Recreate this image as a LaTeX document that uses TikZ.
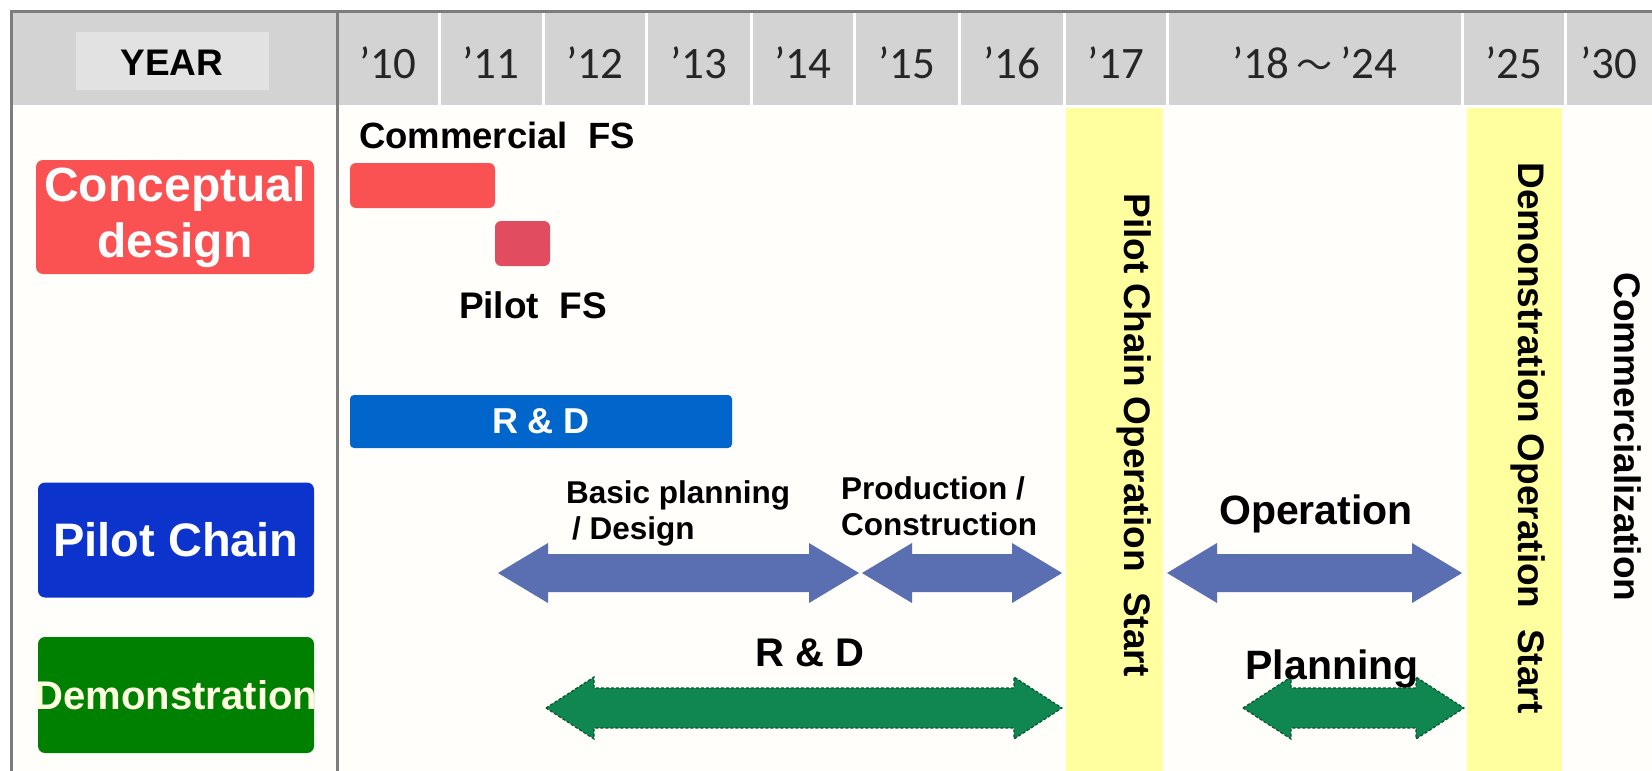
\documentclass[tikz,border=0pt]{standalone}
\usepackage{fontspec}
\setmainfont{Liberation Sans}
\newfontfamily\yearfont{Carlito}
\newfontfamily\cjkfont{Noto Sans CJK JP}
\definecolor{hdrgray}{RGB}{211,211,211}
\definecolor{yearbox}{RGB}{226,226,226}
\definecolor{framegray}{RGB}{125,125,125}
\definecolor{bodybg}{RGB}{255,254,250}
\definecolor{cdred}{RGB}{250,82,82}
\definecolor{fsred}{RGB}{226,76,96}
\definecolor{rdblue}{RGB}{0,102,204}
\definecolor{pcblue}{RGB}{12,52,205}
\definecolor{demogreen}{RGB}{0,128,0}
\definecolor{demotext}{RGB}{255,255,225}
\definecolor{arrblue}{RGB}{90,110,178}
\definecolor{arrgreen}{RGB}{16,134,80}
\definecolor{arrgreendark}{RGB}{8,85,45}
\definecolor{msyellow}{RGB}{255,255,160}
% style, x1, x2, y, head length, head half-width, shaft half-width
\newcommand{\dbarr}[7]{%
  \path[#1] (#2,#4) -- (#2+#5,#4-#6) -- (#2+#5,#4-#7) -- (#3-#5,#4-#7)
    -- (#3-#5,#4-#6) -- (#3,#4) -- (#3-#5,#4+#6) -- (#3-#5,#4+#7)
    -- (#2+#5,#4+#7) -- (#2+#5,#4+#6) -- cycle;}
\begin{document}
\begin{tikzpicture}[x=1pt,y=-1pt,
  rowbox/.style={rounded corners=7pt, inner sep=0pt, text=white},
  lbl/.style={inner sep=0pt, text=black},
  yearlbl/.style={inner sep=0pt, text=black!85, font=\fontsize{45}{48}\selectfont\yearfont},
  bluearrow/.style={fill=arrblue},
  greenarrow/.style={fill=arrgreen, draw=arrgreendark, line width=1.2pt, dash pattern=on 3pt off 2pt},
  vtext/.style={inner sep=0pt, rotate=-90, text=black, font=\fontsize{37}{40}\selectfont\bfseries}]
\useasboundingbox (0,0) rectangle (1652,771);
\fill[white] (0,0) rectangle (1652,771);
\fill[bodybg] (11,108) rectangle (1652,771);
% milestone bars
\fill[msyellow] (1066,108) rectangle (1163,771);
\fill[msyellow] (1467,108) rectangle (1562,771);
% header
\fill[hdrgray] (11,11) rectangle (1652,105);
\foreach \x in {439,543,646,751,854,959,1064,1167,1462,1565}
  \fill[white] (\x-1.5,12) rectangle (\x+1.5,105);
\fill[yearbox] (76,32) rectangle (269,90);
% frame
\draw[framegray, line width=3pt] (11,771) -- (11,11) -- (1652,11);
\draw[framegray, line width=3pt] (337,11) -- (337,771);
% header texts
\node[lbl, font=\fontsize{37}{40}\selectfont\bfseries] (year) at (172,63) {YEAR};
\foreach \c/\t [count=\i] in {388/{’10},491/{’11},594.5/{’12},698.5/{’13},802.5/{’14},906.5/{’15},1011.5/{’16},1115.5/{’17},1513.5/{’25},1608.5/{’30}}
  \node[yearlbl] (yr\i) at (\c,63) {\t};
\node[yearlbl] (yrmid) at (1314.5,63) {’18\,{\cjkfont\fontsize{36}{40}\selectfont ～}\,’24};
% row labels
\node[rowbox, fill=cdred, minimum width=278pt, minimum height=114pt, align=center,
  font=\fontsize{48}{56}\selectfont\bfseries] (cd) at (175,217) {Conceptual\\design};
\node[rowbox, fill=pcblue, minimum width=276pt, minimum height=115pt,
  font=\fontsize{47}{50}\selectfont\bfseries] (pc) at (176,540) {Pilot Chain};
\node[rowbox, fill=demogreen, minimum width=276pt, minimum height=116pt, text=demotext,
  inner xsep=-8pt, font=\fontsize{40}{42}\selectfont\bfseries] (demo) at (176,695) {Demonstration};
% conceptual design bars
\node[rowbox, fill=cdred, minimum width=145pt, minimum height=45pt, rounded corners=6pt] (cfsbar) at (422.5,185.5) {};
\node[rowbox, fill=fsred, minimum width=55pt, minimum height=45pt, rounded corners=6pt] (pfsbar) at (522.5,243.5) {};
\node[rowbox, fill=rdblue, minimum width=382pt, minimum height=53pt, rounded corners=4pt,
  font=\fontsize{36}{40}\selectfont\bfseries] (rdbar) at (541,421.5) {R \& D};
\node[lbl, font=\fontsize{36.5}{40}\selectfont\bfseries] (cfs) at (497,135) {Commercial\ \ FS};
\node[lbl, font=\fontsize{37}{40}\selectfont\bfseries] (pfs) at (533,305) {Pilot\ \ FS};
% arrows
\dbarr{bluearrow}{498}{859}{573}{50}{30}{19}
\dbarr{bluearrow}{862}{1062}{573}{50}{30}{19}
\dbarr{bluearrow}{1167}{1462}{573}{50}{30}{19}
\dbarr{greenarrow}{546}{1062}{708}{48}{31}{20}
\dbarr{greenarrow}{1243}{1464}{708}{48}{31}{20}
% arrow labels
\node[lbl, anchor=west, align=left, font=\fontsize{31.5}{36}\selectfont\bfseries] (bpd) at (566,513) {Basic planning\\\hspace*{6pt}/ Design};
\node[lbl, anchor=west, align=left, font=\fontsize{31.5}{36}\selectfont\bfseries] (pcon) at (841,506) {Production /\\Construction};
\node[lbl, font=\fontsize{41}{44}\selectfont\bfseries] (op) at (1316,514) {Operation};
\node[lbl, font=\fontsize{41}{44}\selectfont\bfseries] (plan) at (1332,669) {Planning};
\node[lbl, font=\fontsize{40}{44}\selectfont\bfseries] (rd2) at (810,653) {R \& D};
% vertical milestone texts
\node[vtext] (pcos) at (1134,435) {Pilot Chain Operation\ \ Start};
\node[vtext] (dos) at (1528,438) {Demonstration Operation\ \ Start};
\node[vtext] (comm) at (1628,437) {Commercialization};
\end{tikzpicture}
\end{document}
